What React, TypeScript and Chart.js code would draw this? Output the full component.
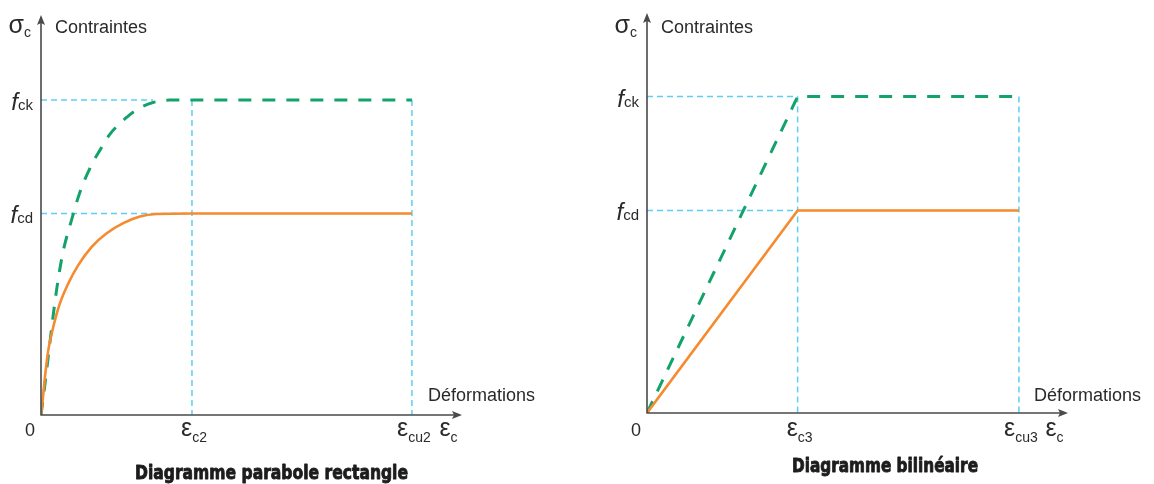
import React, { useEffect, useRef } from "react";
import { Chart, registerables } from "chart.js";

Chart.register(...registerables);

// ---------- Data: parabola-rectangle diagram (relative strain units, stress / fck) ----------
const parabolaStrainCk = [0, 0.054, 0.162, 0.323, 0.431, 0.593, 0.809, 1.051, 1.375, 1.59, 1.86, 2.318, 2.668, 3.019, 3.477, 4.07, 10];
const parabolaStressCk = [0, 0.048, 0.152, 0.311, 0.406, 0.517, 0.613, 0.708, 0.797, 0.841, 0.892, 0.946, 0.975, 0.992, 1, 1, 1];
const parabolaStrainCd = [0, 0.046, 0.108, 0.197, 0.332, 0.512, 0.736, 1.005, 1.367, 1.771, 2.218, 2.668, 3.119, 4.07, 10];
const parabolaStressCd = [0, 0.048, 0.122, 0.206, 0.28, 0.355, 0.418, 0.476, 0.534, 0.577, 0.609, 0.63, 0.638, 0.64, 0.64];
const parabolaKeyStrains = [0, 4.07, 10]; // 0, εc2, εcu2
const parabolaStressLevels = [1, 0.64]; // fck, fcd
const parabolaJoinStrain = 3.02; // where the fck curve meets the plateau
const parabolaXLabels = [["ε", "c2"], ["ε", "cu2"]];

// ---------- Data: bilinear diagram ----------
const bilinearStrain = [0, 4.05, 10];
const bilinearStressCk = [0, 1, 1];
const bilinearStressCd = [0, 0.64, 0.64];
const bilinearKeyStrains = [0, 4.05, 10]; // 0, εc3, εcu3
const bilinearStressLevels = [1, 0.64];
const bilinearXLabels = [["ε", "c3"], ["ε", "cu3"]];

const yLabels = [["f", "ck"], ["f", "cd"]];
const titles = ["Diagramme parabole rectangle", "Diagramme bilinéaire"];

// ---------- Styles ----------
const GREEN = "#13a36a";
const ORANGE = "#f58a2e";
const CYAN = "#5ccff2";
const AXIS = "#4a4a4a";
const TEXT = "#2a2a2a";
const SANS = '"Liberation Sans", Arial, sans-serif';

type Part = { t: string; font: string; dy: number };

function drawParts(ctx: CanvasRenderingContext2D, parts: Part[], x: number, y: number, align: "left" | "center" | "right") {
  let total = 0;
  const widths = parts.map((p) => {
    ctx.font = p.font;
    const w = ctx.measureText(p.t).width;
    total += w;
    return w;
  });
  let cx = align === "left" ? x : align === "center" ? x - total / 2 : x - total;
  ctx.textAlign = "left";
  ctx.textBaseline = "alphabetic";
  parts.forEach((p, i) => {
    ctx.font = p.font;
    ctx.fillText(p.t, cx, y + p.dy);
    cx += widths[i];
  });
}

const pts = (xs: number[], ys: number[]) => xs.map((x, i) => ({ x, y: ys[i] }));

type PanelProps = {
  pageLeft: number;
  width: number;
  height: number;
  padding: { left: number; right: number; top: number; bottom: number };
  xMax: number;
  yMax: number;
  ck: { x: number; y: number }[];
  cd: { x: number; y: number }[];
  smooth: boolean;
  keyStrains: number[];
  levels: number[];
  fckGuideEnd: number;
  xLabels: string[][];
  title: string;
  titleCenter: number;
  titleBaseline: number;
  titleWidth: number;
};

function Panel(props: PanelProps) {
  const ref = useRef<HTMLCanvasElement | null>(null);
  useEffect(() => {
    const canvas = ref.current!;
    const [zero, eMid, eUlt] = props.keyStrains;
    const [fck, fcd] = props.levels;
    const guide = (data: { x: number; y: number }[]) => ({
      data,
      borderColor: CYAN,
      borderWidth: 1.5,
      borderDash: [6, 4],
      pointRadius: 0,
      showLine: true,
      fill: false,
      order: 5,
      clip: false as any,
    });
    const curveMode = props.smooth ? "monotone" : "default";
    const labelsPlugin = {
      id: "labels" + props.pageLeft,
      afterDraw(chart: any) {
        const { ctx, chartArea } = chart;
        const xs = chart.scales.x;
        const ys = chart.scales.y;
        const x0 = xs.getPixelForValue(0);
        const y0 = ys.getPixelForValue(0);
        const top = chartArea.top;
        const right = chartArea.right;
        ctx.save();
        // axes
        ctx.strokeStyle = AXIS;
        ctx.fillStyle = AXIS;
        ctx.lineWidth = 1.6;
        ctx.beginPath();
        ctx.moveTo(x0, y0 + 0.5);
        ctx.lineTo(x0, top + 8);
        ctx.moveTo(x0 - 0.5, y0);
        ctx.lineTo(right - 8, y0);
        ctx.stroke();
        ctx.beginPath();
        ctx.moveTo(x0, top);
        ctx.lineTo(x0 - 4, top + 10);
        ctx.lineTo(x0, top + 8);
        ctx.lineTo(x0 + 4, top + 10);
        ctx.closePath();
        ctx.fill();
        ctx.beginPath();
        ctx.moveTo(right, y0);
        ctx.lineTo(right - 10, y0 - 4);
        ctx.lineTo(right - 8, y0);
        ctx.lineTo(right - 10, y0 + 4);
        ctx.closePath();
        ctx.fill();

        ctx.fillStyle = TEXT;
        // y axis title
        drawParts(ctx, [
          { t: "σ", font: `25px ${SANS}`, dy: 0 },
          { t: "c", font: `14px ${SANS}`, dy: 4 },
        ], x0 - 10, 33, "right");
        ctx.font = `18px ${SANS}`;
        ctx.fillText("Contraintes", x0 + 14, 33);
        // x axis title
        ctx.fillText("Déformations", right - 34, 401);
        // y labels
        props.levels.forEach((lv, i) => {
          const py = ys.getPixelForValue(lv);
          drawParts(ctx, [
            { t: yLabels[i][0], font: `italic 24px ${SANS}`, dy: 0 },
            { t: yLabels[i][1], font: `15px ${SANS}`, dy: 0 },
          ], x0 - 8, py + 10, "right");
        });
        // x labels
        ctx.font = `18px ${SANS}`;
        ctx.textAlign = "right";
        ctx.fillText("0", xs.getPixelForValue(zero) - 6, 436);
        [eMid, eUlt].forEach((v, i) => {
          drawParts(ctx, [
            { t: props.xLabels[i][0], font: `25px ${SANS}`, dy: 0 },
            { t: props.xLabels[i][1], font: `14px ${SANS}`, dy: 6 },
          ], xs.getPixelForValue(v) + 2, 436, "center");
        });
        drawParts(ctx, [
          { t: "ε", font: `25px ${SANS}`, dy: 0 },
          { t: "c", font: `14px ${SANS}`, dy: 6 },
        ], right - 13.5, 436, "center");
        // title (heavy condensed)
        ctx.font = `bold 19px "DejaVu Sans", sans-serif`;
        const w = ctx.measureText(props.title).width;
        ctx.translate(props.titleCenter - props.pageLeft, props.titleBaseline);
        ctx.scale(props.titleWidth / w, 1);
        ctx.textAlign = "center";
        ctx.fillStyle = "#1c1c1c";
        ctx.strokeStyle = "#1c1c1c";
        ctx.lineWidth = 0.9;
        ctx.lineJoin = "round";
        ctx.fillText(props.title, 0, 0);
        ctx.strokeText(props.title, 0, 0);
        ctx.restore();
      },
    };
    const chart = new Chart(canvas, {
      type: "scatter",
      data: {
        datasets: [
          {
            data: props.ck,
            borderColor: GREEN,
            borderWidth: 3,
            borderDash: [13, 11],
            pointRadius: 0,
            showLine: true,
            fill: false,
            tension: 0,
            cubicInterpolationMode: curveMode,
            order: 1,
          } as any,
          {
            data: props.cd,
            borderColor: ORANGE,
            borderWidth: 2.6,
            pointRadius: 0,
            showLine: true,
            fill: false,
            tension: 0,
            cubicInterpolationMode: curveMode,
            order: 0,
          } as any,
          guide([{ x: zero, y: fck }, { x: props.fckGuideEnd, y: fck }]),
          guide([{ x: zero, y: fcd }, { x: eMid, y: fcd }]),
          guide([{ x: eMid, y: fck }, { x: eMid, y: 0 }]),
          guide([{ x: eUlt, y: fck }, { x: eUlt, y: 0 }]),
        ],
      },
      options: {
        responsive: false,
        animation: false,
        devicePixelRatio: 1,
        layout: { padding: props.padding },
        plugins: { legend: { display: false }, tooltip: { enabled: false } },
        scales: {
          x: { type: "linear", min: 0, max: props.xMax, display: false },
          y: { type: "linear", min: 0, max: props.yMax, display: false },
        },
      },
      plugins: [labelsPlugin],
    });
    return () => chart.destroy();
  }, []);
  return (
    <canvas
      ref={ref}
      width={props.width}
      height={props.height}
      style={{ position: "absolute", left: props.pageLeft, top: 0, width: props.width, height: props.height }}
    />
  );
}

export default function App() {
  useEffect(() => {
    document.body.style.margin = "0";
    document.body.style.background = "#ffffff";
  }, []);
  return (
    <div style={{ position: "relative", width: 1154, height: 484, background: "#fff", overflow: "hidden" }}>
      <Panel
        pageLeft={0}
        width={577}
        height={484}
        padding={{ left: 41, right: 115, top: 15, bottom: 69 }}
        xMax={11.35}
        yMax={1.27}
        ck={pts(parabolaStrainCk, parabolaStressCk)}
        cd={pts(parabolaStrainCd, parabolaStressCd)}
        smooth={true}
        keyStrains={parabolaKeyStrains}
        levels={parabolaStressLevels}
        fckGuideEnd={parabolaJoinStrain}
        xLabels={parabolaXLabels}
        title={titles[0]}
        titleCenter={271.5}
        titleBaseline={479}
        titleWidth={273}
      />
      <Panel
        pageLeft={577}
        width={577}
        height={484}
        padding={{ left: 70, right: 86, top: 13, bottom: 71 }}
        xMax={11.32}
        yMax={1.264}
        ck={pts(bilinearStrain, bilinearStressCk)}
        cd={pts(bilinearStrain, bilinearStressCd)}
        smooth={false}
        keyStrains={bilinearKeyStrains}
        levels={bilinearStressLevels}
        fckGuideEnd={bilinearKeyStrains[1]}
        xLabels={bilinearXLabels}
        title={titles[1]}
        titleCenter={885}
        titleBaseline={472}
        titleWidth={186}
      />
    </div>
  );
}
